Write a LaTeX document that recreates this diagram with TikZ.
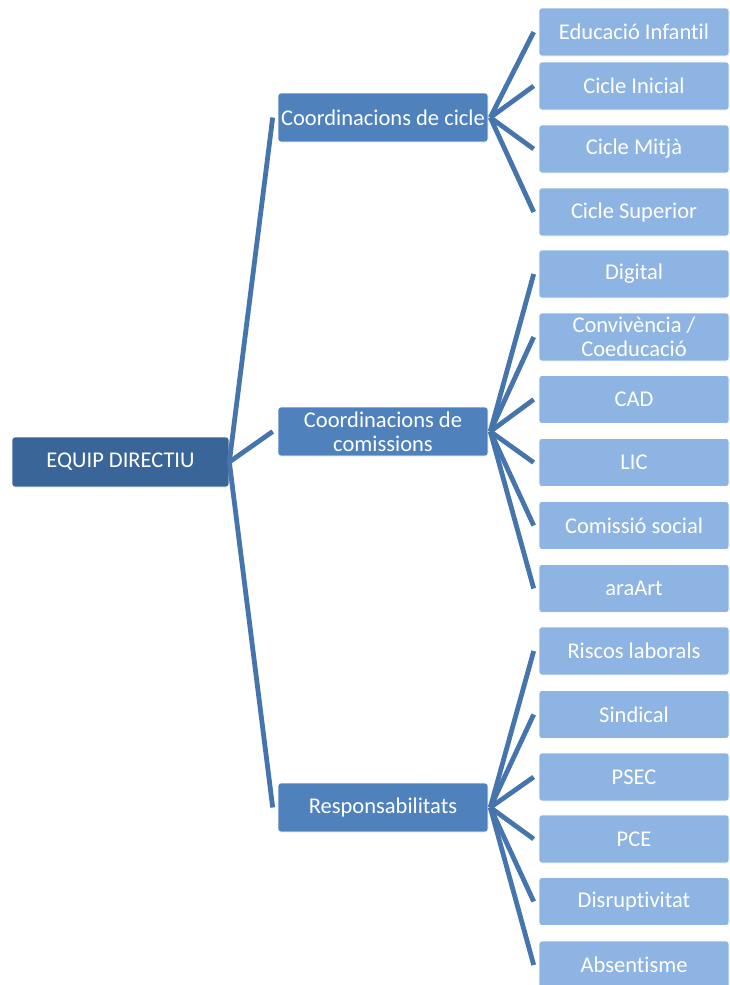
\documentclass[tikz,border=0pt]{standalone}
\usepackage{fontspec}
\setmainfont[Ligatures=NoCommon]{Carlito}
\usetikzlibrary{positioning}
\definecolor{rootblue}{HTML}{3A6598}
\definecolor{midblue}{HTML}{4F81BD}
\definecolor{leafblue}{HTML}{8EB4E3}
\definecolor{linkblue}{HTML}{4674AD}

\begin{document}
\begin{tikzpicture}[x=1pt,y=-1pt,line width=4.8pt,draw=linkblue]
    \tikzstyle{box}=[rectangle, rounded corners=3pt, draw=white, line width=0.6pt, text=white, font=\fontsize{22.5}{24}\selectfont, align=center, inner sep=0pt]
    \tikzstyle{root}=[box, fill=rootblue, minimum width=217pt, minimum height=50pt]
    \tikzstyle{coord}=[box, fill=midblue, minimum width=210pt, minimum height=49pt]
    \tikzstyle{leaf}=[box, fill=leafblue, minimum width=190pt, minimum height=48pt]

    \useasboundingbox (0,0) rectangle (730,985);

    \node[root] (ED) at (120.5,462) {EQUIP DIRECTIU};

    \node[coord] (C-1) at (383,117.5) {Coordinacions de cicle};
    \node[coord] (C-2) at (383,431.5) {Coordinacions de\\comissions};
    \node[coord] (C-3) at (383,807.5) {Responsabilitats};

    \foreach \c in {1,2,3}{
        \path (ED.east) edge ([xshift=-5pt]C-\c.west);
    }

    % cicles
    \foreach \i/\y/\txt in {1/32/Educació Infantil, 2/86/Cicle Inicial, 3/149/Cicle Mitjà, 4/212/Cicle Superior}{
        \node[leaf] (L-\i) at (634,\y) {\txt};
        \path ([xshift=2pt]C-1.east) edge ([xshift=-5pt]L-\i.west);
    }
    % comissions
    \foreach \i/\y/\txt in {5/274/Digital, 6/337/{Convivència /\\Coeducació}, 7/399.5/CAD, 8/462.5/LIC, 9/525.5/Comissió social, 10/588.5/araArt}{
        \node[leaf] (L-\i) at (634,\y) {\txt};
        \path ([xshift=2pt]C-2.east) edge ([xshift=-5pt]L-\i.west);
    }
    % responsabilitats
    \foreach \i/\y/\txt in {11/651/Riscos laborals, 12/714.5/Sindical, 13/777/PSEC, 14/839/PCE, 15/901.5/Disruptivitat, 16/965/Absentisme}{
        \node[leaf] (L-\i) at (634,\y) {\txt};
        \path ([xshift=2pt]C-3.east) edge ([xshift=-5pt]L-\i.west);
    }
\end{tikzpicture}
\end{document}
